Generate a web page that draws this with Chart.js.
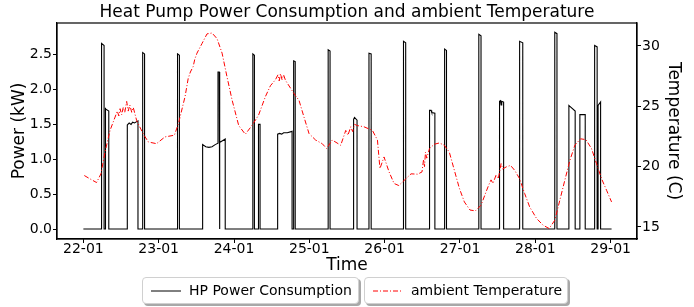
<!DOCTYPE html>
<html>
<head>
<meta charset="utf-8">
<title>Heat Pump Power Consumption and ambient Temperature</title>
<script src="https://cdn.jsdelivr.net/npm/chart.js@4.4.1/dist/chart.umd.min.js"></script>
<style>
body { margin: 0; background: #fff; font-family: "DejaVu Sans", sans-serif; }
#wrap { position: relative; width: 694px; height: 307px; }
.leg { position: absolute; top: 277px; height: 25px; border: 1px solid #d0d0d0; border-radius: 4px;
       background: #fff; box-shadow: 2px 2px 0 #a8a8a8; font-size: 14px; line-height: 25px; color: #000; }
.leg svg { position: absolute; left: 8px; top: 12px; }
.leg span { position: absolute; left: 46px; top: 0; white-space: nowrap; }
</style>
</head>
<body>
<div id="wrap">
  <canvas id="myChart" width="694" height="307"></canvas>
  <div class="leg" style="left:142px;width:215px;">
    <svg width="30" height="2"><line x1="0" y1="1" x2="30" y2="1" stroke="#000" stroke-width="1"/></svg>
    <span>HP Power Consumption</span>
  </div>
  <div class="leg" style="left:364px;width:202px;">
    <svg width="30" height="2"><line x1="0" y1="1" x2="30" y2="1" stroke="#ff0000" stroke-width="1" stroke-dasharray="5,2,1,2"/></svg>
    <span>ambient Temperature</span>
  </div>
</div>
<script>
// tick labels, one per day (hours since 22-01 00:00 = index * 24)
var dayLabels = ["22-01", "23-01", "24-01", "25-01", "26-01", "27-01", "28-01", "29-01"];

// heat pump power (kW), time in hours
var powerHours = [0, 5.8, 5.8, 6.6, 6.6, 6.9, 6.9, 7.2, 8.1, 8.1,
    14.0, 14.0, 14.6, 15.2, 15.7, 16.3, 17.4, 17.4, 18.9, 18.9, 19.5, 19.5,
    30.0, 30.0, 30.6, 30.6, 38.0, 38.0, 39.0, 40.0, 41.0, 42.0, 42.9, 42.9, 43.3, 43.3,
    43.5, 43.5, 45.2, 45.2, 54.0, 54.0, 54.5, 54.5, 55.8, 55.8, 56.3, 56.3,
    61.9, 61.9, 62.5, 63.2, 63.8, 65.0, 66.5, 66.5, 67.0, 67.0, 67.5, 67.5,
    78.0, 78.0, 78.6, 78.6, 86.1, 86.1, 86.4, 87.2, 87.2, 91.0, 91.0, 91.7, 91.7,
    102.0, 102.0, 102.7, 102.7, 110.3, 110.3, 110.8, 111.0, 112.0, 112.0,
    115.1, 115.1, 115.7, 115.7, 126.0, 126.0, 126.7, 126.7,
    132.6, 132.6, 132.9, 133.1, 133.3, 133.9, 133.9, 139.0, 139.0, 140.0, 140.0,
    150.2, 150.2, 150.9, 150.9, 154.7, 154.7, 155.2, 156.7, 156.7,
    158.2, 158.2, 159.9, 159.9, 162.9, 162.9, 163.7, 163.7, 164.0, 164.0, 164.8, 164.8, 168.3];
var powerKW = [0, 0, 2.66, 2.63, 0, 0, 1.74, 1.72, 1.69, 0,
    0, 1.49, 1.52, 1.50, 1.53, 1.52, 1.55, 0, 0, 2.53, 2.51, 0,
    0, 2.51, 2.49, 0, 0, 1.21, 1.18, 1.17, 1.18, 1.21, 1.23, 2.25, 2.25, 0,
    0, 1.24, 1.29, 0, 0, 2.51, 2.49, 0, 0, 1.50, 1.50, 0,
    0, 1.36, 1.37, 1.36, 1.38, 1.38, 1.40, 0, 0, 2.41, 2.40, 0,
    0, 2.57, 2.55, 0, 0, 1.57, 1.60, 1.56, 0, 0, 2.52, 2.51, 0,
    0, 2.69, 2.67, 0, 0, 1.70, 1.70, 1.67, 1.66, 0,
    0, 2.58, 2.56, 0, 0, 2.79, 2.77, 0,
    0, 1.83, 1.84, 1.78, 1.83, 1.82, 0, 0, 2.69, 2.67, 0,
    0, 2.82, 2.80, 0, 0, 1.77, 1.75, 1.69, 0,
    0, 1.64, 1.64, 0, 0, 2.63, 2.61, 0, 0, 1.77, 1.82, 0, 0];

// ambient temperature (C), time in hours
var tempHours = [0.3, 2.0, 4.2, 5.6, 6.9, 8.5, 10.1, 10.8, 11.3, 11.7, 12.2, 12.7, 13.2, 13.8, 14.3,
    14.8, 15.4, 15.9, 17.0, 19.1, 20.7, 23.3, 26.0, 29.0, 30.3, 32.4, 33.4, 34.1, 35.0, 35.5,
    36.2, 37.8, 39.4, 41.0, 42.6, 44.2, 45.8, 47.4, 49.5, 51.6, 53.7, 55.8, 58.0, 59.6, 61.2,
    62.0, 62.4, 62.8, 63.3, 63.8, 64.4, 66.5, 67.5, 68.7, 70.3, 71.9, 74.0, 76.1, 77.5, 79.3,
    82.0, 83.6, 84.3, 85.2, 85.8, 86.4, 87.3, 89.4, 92.1, 93.7, 94.5, 95.8, 97.4, 99.0, 100.5,
    102.8, 104.4, 106.5, 107.9, 108.4, 108.7, 109.0, 109.4, 110.3, 111.8, 113.4, 115.0, 116.6,
    118.2, 119.8, 121.4, 123.2, 124.9, 126.7, 128.3, 129.2, 129.9, 130.5, 131.5, 132.2, 133.1,
    133.6, 134.7, 136.1, 137.4, 139.0, 140.6, 142.2, 144.4, 146.5, 148.4, 150.2, 151.8, 153.4,
    155.0, 156.6, 158.4, 160.1, 161.9, 163.5, 165.1, 166.7, 168.3];
var tempC = [19.26, 19.0, 18.68, 19.4, 21.2, 23.0, 24.1, 24.6, 24.2, 24.8, 24.3, 24.9, 24.5, 25.4, 24.6,
    25.1, 24.5, 24.9, 23.8, 22.7, 22.04, 21.9, 22.46, 22.6, 23.57, 25.8, 27.3, 27.84, 28.3, 28.9,
    29.4, 30.2, 31.0, 31.07, 30.6, 29.4, 27.4, 25.5, 23.4, 22.68, 23.4, 24.25, 25.8, 26.7, 27.2,
    27.6, 27.1, 27.7, 27.2, 27.6, 27.15, 26.3, 25.9, 25.5, 24.1, 22.74, 22.2, 21.9, 21.5, 22.2,
    21.77, 23.0, 22.6, 23.3, 22.9, 23.5, 23.4, 23.3, 23.0, 22.2, 19.84, 20.8, 19.56, 18.6, 18.43,
    19.0, 19.4, 19.37, 19.56, 20.6, 20.0, 21.2, 20.7, 21.5, 21.85, 21.96, 21.77, 21.2,
    19.7, 18.2, 17.07, 16.4, 16.33, 16.8, 17.9, 18.5, 18.9, 18.6, 19.3, 19.0, 20.25,
    19.8, 19.97, 20.1, 19.7, 19.0, 17.77, 16.66, 15.7, 15.14, 14.87, 15.55, 17.2, 18.87,
    20.5, 21.77, 22.3, 22.24, 21.5, 20.25, 19.0, 18.04, 17.07];

var powerTicks = [0, 0.5, 1.0, 1.5, 2.0, 2.5];
var tempTicks = [15, 20, 25, 30];

function puntos(xs, ys)
{
    var out = [];
    for (var i = 0; i < xs.length; i++) {
        out.push({x: xs[i], y: ys[i]});
    }
    return out;
}

// matplotlib style box round the plot area
var marco = {
    id: 'marco',
    afterDatasetsDraw: function(chart) {
        var a = chart.chartArea;
        var c = chart.ctx;
        c.save();
        c.strokeStyle = '#000';
        c.lineWidth = 1.2;
        c.strokeRect(a.left, a.top, a.right - a.left, a.bottom - a.top);
        c.restore();
    }
};

Chart.defaults.font.family = "'DejaVu Sans', sans-serif";
Chart.defaults.font.size = 14;
Chart.defaults.color = '#000';

var ejeGrid = {drawOnChartArea: false, drawTicks: true, tickLength: 4, color: '#000', tickColor: '#000'};
var ejeBorde = {display: true, color: '#000', width: 1.2};

var ctx = document.getElementById("myChart").getContext('2d');
var myChart = new Chart(ctx, {
    type: 'line',
    data: {
        datasets: [{
            label: 'HP Power Consumption',
            data: puntos(powerHours, powerKW),
            borderColor: '#000',
            borderWidth: 1.1,
            pointRadius: 0,
            tension: 0,
            yAxisID: 'y',
            order: 1
        }, {
            label: 'ambient Temperature',
            data: puntos(tempHours, tempC),
            borderColor: '#ff0000',
            borderWidth: 1,
            borderDash: [5, 2, 1, 2],
            pointRadius: 0,
            tension: 0,
            yAxisID: 'y1',
            order: 0
        }]
    },
    options: {
        responsive: false,
        animation: false,
        devicePixelRatio: 1,
        layout: {padding: {top: 0, left: 0, right: 0, bottom: 28}},
        plugins: {
            legend: {display: false},
            tooltip: {enabled: false},
            title: {
                display: true,
                text: 'Heat Pump Power Consumption and ambient Temperature',
                font: {size: 17, weight: 'normal'},
                color: '#000',
                padding: {top: 2.3, bottom: 0.3}
            }
        },
        scales: {
            x: {
                type: 'linear',
                min: -8.4,
                max: 176.4,
                grid: ejeGrid,
                border: ejeBorde,
                afterBuildTicks: function(sc) {
                    sc.ticks = dayLabels.map(function(l, i) { return {value: i * 24}; });
                },
                afterFit: function(sc) { sc.height = 40; },
                ticks: {
                    autoSkip: false,
                    maxRotation: 0,
                    padding: -2,
                    callback: function(v, i) { return dayLabels[i]; }
                },
                title: {display: true, text: 'Time', font: {size: 17}, padding: {top: 0, bottom: 3.5}}
            },
            y: {
                position: 'left',
                min: -0.143,
                max: 2.953,
                grid: ejeGrid,
                border: ejeBorde,
                afterBuildTicks: function(sc) {
                    sc.ticks = powerTicks.map(function(v) { return {value: v}; });
                },
                afterFit: function(sc) { sc.width = 57; },
                ticks: {padding: 1, callback: function(v) { return v.toFixed(1); }},
                title: {display: true, text: 'Power (kW)', font: {size: 17}, padding: {top: 9.5, bottom: 0}}
            },
            y1: {
                position: 'right',
                min: 14.0,
                max: 31.9,
                grid: ejeGrid,
                border: ejeBorde,
                afterBuildTicks: function(sc) {
                    sc.ticks = tempTicks.map(function(v) { return {value: v}; });
                },
                afterFit: function(sc) { sc.width = 57; },
                ticks: {padding: 1},
                title: {display: true, text: 'Temperature (C)', font: {size: 17}, padding: {top: 10.3, bottom: 0}}
            }
        }
    },
    plugins: [marco]
});
</script>
</body>
</html>
